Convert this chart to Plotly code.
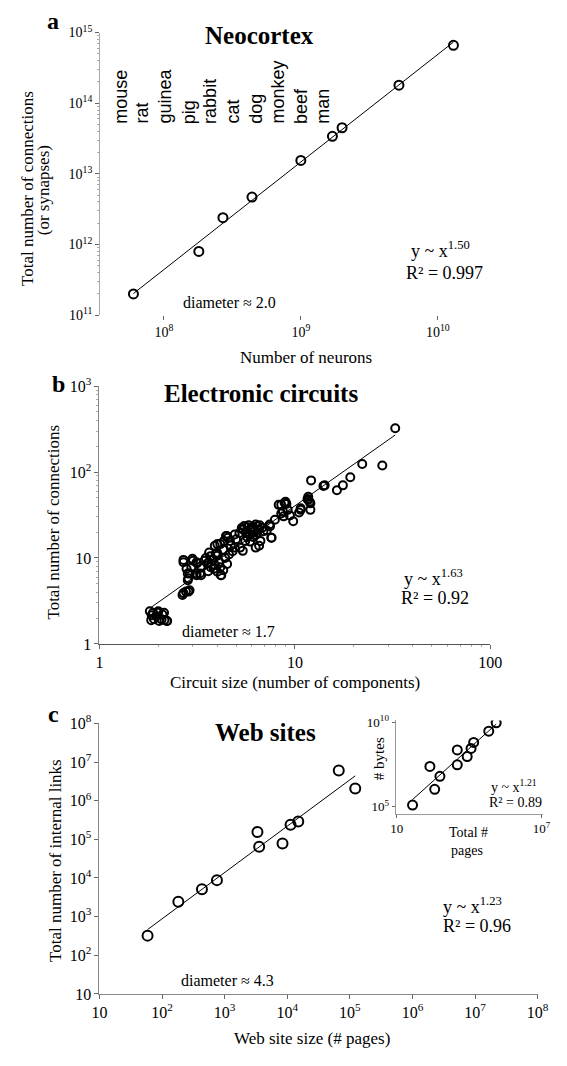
import numpy as np
import plotly.graph_objects as go

W, H = 567, 1066
SERIF = "Liberation Serif, Times New Roman, serif"
SANS = "Liberation Sans, Arial, sans-serif"

# ---- a: neocortex (neurons vs synapses) ----
species = ["mouse", "rat", "guinea", "pig", "rabbit", "cat", "dog", "monkey", "beef", "man"]
neurons = [6.0e7, 1.8e8, 2.7e8, 4.4e8, 1.0e9, 1.7e9, 2.0e9, 5.2e9, 1.3e10]
synapses = [2.0e11, 8.0e11, 2.4e12, 4.7e12, 1.55e13, 3.4e13, 4.5e13, 1.8e14, 6.6e14]

# ---- b: electronic circuits (components vs connections) ----
circuit_size = [
    32.6, 28.0, 22.1, 19.2, 17.6, 16.4, 14.0, 14.2, 12.1, 11.6, 11.7, 11.7, 12.0, 11.9,
    12.0, 10.7, 10.7, 10.5, 9.8, 9.43, 9.19, 8.85, 8.95, 9.04, 8.26, 8.51, 8.68, 8.51,
    8.75, 7.9, 7.46, 7.42, 7.6, 7.18,
    6.30, 5.72, 5.41, 6.41, 6.66, 6.43, 5.35, 6.0, 6.2, 5.9, 6.5, 6.8, 5.6, 6.1,
    5.5, 5.8, 6.1, 6.6, 6.9, 6.3, 5.7, 5.2, 5.9, 6.0,
    6.30, 5.41, 4.92, 4.65, 4.48, 4.34, 4.15, 3.89, 4.00, 3.64, 3.44, 3.57, 3.85, 4.15,
    4.20, 4.00, 4.54, 4.01, 4.92, 5.24, 5.57, 6.56, 7.57, 5.0, 4.7, 4.3, 3.7, 3.9, 4.44,
    3.93, 4.18, 4.01, 3.62, 3.71,
    3.5, 3.8, 4.1, 4.4, 4.6, 3.6, 4.3, 3.3, 4.8, 4.5,
    3.01, 2.69, 3.16, 2.79, 2.95, 3.13, 3.31, 2.83, 2.83, 3.14, 3.27, 2.69, 2.99, 3.14,
    2.9, 2.85,
    2.66, 2.77, 2.89, 2.69, 2.85,
    1.81, 1.84, 1.99, 2.14, 2.02, 2.22, 1.88, 2.08, 2.21, 1.95, 2.1,
    1.9, 2.0, 2.15, 1.85,
]
circuit_links = [
    324, 119, 124, 87, 70, 61.5, 69, 70, 80, 48.5, 51.5, 47.3, 43.2, 45,
    36.3, 37.9, 36.3, 33.9, 26.7, 31.3, 36.3, 44, 45.2, 42.6, 41.5, 41.5, 34.7, 33,
    30.5, 27.9, 23.4, 24.5, 17.2, 20.9,
    24.5, 22.8, 21.5, 19.6, 15.8, 23.4, 22.4, 21, 20, 18.5, 21.5, 22.5, 20, 17.5,
    23.5, 24, 23, 24, 20.5, 18.5, 17.5, 19.5, 15.5, 22.5,
    13.2, 12.1, 13.2, 15.8, 18.0, 15.8, 14.5, 13.9, 10.6, 11.6, 9.3, 8.6, 7.5, 7.8,
    6.3, 11.5, 17.2, 14.5, 18.8, 13.2, 15.8, 13.9, 17.2, 16.5, 14, 12.5, 10.5, 8.3, 18.0,
    11.1, 6.3, 6.9, 8.9, 7.8,
    10, 9.5, 9, 10, 11, 7, 7.2, 8, 12, 8.5,
    9.3, 9.5, 8.7, 7.5, 7.8, 6.6, 6.3, 6.6, 5.5, 6.3, 6.6, 8.9, 9.8, 8.9,
    6.6, 5.8,
    3.7, 4.06, 4.2, 3.9, 4.06,
    2.4, 1.89, 2.3, 2.3, 1.85, 1.85, 2.3, 1.93, 1.85, 2.1, 2.2,
    1.95, 2.4, 1.9, 2.15,
]

# ---- c: web sites (pages vs internal links) ----
site_pages = [58.7, 182, 434, 753, 3340, 3560, 8400, 1.13e4, 1.50e4, 6.65e4, 1.22e5]
site_links = [322, 2430, 5100, 8790, 1.54e5, 6.4e4, 7.8e4, 2.38e5, 2.88e5, 6.0e6, 2.07e6]

# ---- inset: pages vs bytes ----
inset_pages = [45, 236, 373, 614, 3220, 3220, 8300, 1.2e4, 1.54e4, 6.5e4, 1.32e5]
inset_bytes = [1.26e5, 2.4e7, 1.07e6, 6.3e6, 2.26e8, 3.0e7, 9.2e7, 2.8e8, 6.3e8, 2.9e9, 9.1e9]


def fx(p):
    return p / W


def fy(p):
    return 1 - p / H


def fit_line(x, y):
    lx, ly = np.log10(x), np.log10(y)
    k, b = np.polyfit(lx, ly, 1)
    xs = np.array([min(x), max(x)])
    return xs, 10 ** (b + k * np.log10(xs))


def sup(e):
    return "10<sup>%d</sup>" % e


def log_axis(domain, rng, tickvals, ticktext, anchor, size=15, minor=False, **kw):
    d = dict(
        type="log", domain=domain, range=rng, anchor=anchor,
        tickmode="array", tickvals=tickvals, ticktext=ticktext,
        showgrid=False, zeroline=False, showline=True,
        linecolor="#777", linewidth=1,
        ticks="outside", ticklen=4, tickcolor="#666",
        tickfont=dict(family=SERIF, size=size, color="black"),
        fixedrange=True,
    )
    if minor:
        d["minor"] = dict(ticks="outside", ticklen=2, tickcolor="#aaa",
                          dtick="D1", showgrid=False)
    d.update(kw)
    return d


fig = go.Figure()

marker = dict(symbol="circle-open", color="black", line=dict(width=2, color="black"))

panels = [
    (neurons, synapses, "x", "y", 9),
    (circuit_size, circuit_links, "x2", "y2", 8),
    (site_pages, site_links, "x3", "y3", 10),
    (inset_pages, inset_bytes, "x4", "y4", 9),
]
for xs, ys, xa, ya, ms in panels:
    lx, ly = fit_line(xs, ys)
    fig.add_trace(go.Scatter(x=lx, y=ly, mode="lines", xaxis=xa, yaxis=ya,
                             line=dict(color="black", width=1), hoverinfo="skip"))
    fig.add_trace(go.Scatter(x=xs, y=ys, mode="markers", xaxis=xa, yaxis=ya,
                             marker=dict(marker, size=ms)))

layout = dict(
    width=W, height=H, margin=dict(l=0, r=0, t=0, b=0),
    paper_bgcolor="white", plot_bgcolor="white", showlegend=False,
)

# a
layout["xaxis"] = log_axis([fx(95.5), fx(540)], [7.535, 10.665], [1e8, 1e9, 1e10],
                           [sup(8), sup(9), sup(10)], "y", size=14, showline=False)
layout["yaxis"] = log_axis([fy(310), fy(22)], [11, 15], [1e11, 1e12, 1e13, 1e14, 1e15],
                           [sup(e) for e in range(11, 16)], "x", size=14, linecolor="#aaa",
                           minor=True)
# b
layout["xaxis2"] = log_axis([fx(94.8), fx(500)], [0, 2], [1, 10, 100], ["1", "10", "100"],
                            "y2", size=16, linecolor="#555", minor=True)
layout["yaxis2"] = log_axis([fy(645), fy(382.3)], [0, 3], [1, 10, 100, 1000],
                            ["1", "10", sup(2), sup(3)], "x2", size=16, linecolor="#888",
                            minor=True)
# c
layout["xaxis3"] = log_axis([fx(94.8), fx(549)], [1, 8], [10 ** e for e in range(1, 9)],
                            ["10"] + [sup(e) for e in range(2, 9)], "y3", size=16,
                            linecolor="#888")
layout["yaxis3"] = log_axis([fy(1001.7), fy(726)], [1, 8], [10 ** e for e in range(1, 9)],
                            ["10"] + [sup(e) for e in range(2, 9)], "x3", size=16,
                            linecolor="#888")
# inset
layout["xaxis4"] = log_axis([fx(401.7), fx(555)], [0.948, 7.08], [10, 1e7], ["10", sup(7)],
                            "y4", size=13, linecolor="#999", ticklen=3)
layout["yaxis4"] = log_axis([fy(818), fy(723)], [4.59, 10.1], [1e5, 1e10], [sup(5), sup(10)],
                            "x4", size=13, linecolor="#999", ticklen=3)

annotations = []


def text(x, y, s, size, family=SERIF, angle=0, xanchor="center", yanchor="middle", bold=False):
    if bold:
        s = "<b>%s</b>" % s
    annotations.append(dict(
        x=fx(x), y=fy(y), xref="paper", yref="paper", text=s, showarrow=False,
        textangle=angle, xanchor=xanchor, yanchor=yanchor,
        font=dict(family=family, size=size, color="black"),
    ))


# panel letters and titles
text(47, 10, "a", 24, bold=True)
text(52, 380, "b", 24, bold=True)
text(47, 716, "c", 24, bold=True)
text(261, 25, "Neocortex", 25, bold=True)
text(262, 390, "Electronic circuits", 25, bold=True)
text(267, 735, "Web sites", 25, bold=True)

# species names above the neocortex points
species_x = [117, 139, 163, 187, 210, 233, 257, 280, 304, 327]
for sx, name in zip(species_x, species):
    text(sx, 117, name, 18, family=SANS, angle=-90, yanchor="bottom")

# axis titles
text(20, 181, "Total number of connections", 17, angle=-90)
text(37, 183, "(or synapses)", 17, angle=-90)
text(309, 353, "Number of neurons", 17)
text(47, 521, "Total number of connections", 17, angle=-90)
text(298, 684, "Circuit size (number of components)", 17)
text(49, 866, "Total number of internal links", 17, angle=-90)
text(315, 1047, "Web site size (# pages)", 17)
text(477, 837, "Total #", 14)
text(476, 856, "pages", 14)
text(384, 762, "# bytes", 15, angle=-90)

# fit statistics
text(448, 243, "y ~ x<sup>1.50</sup>", 18)
text(452, 267, "R² = 0.997", 18)
text(230, 297, "diameter ≈ 2.0", 16)
text(441, 577, "y ~ x<sup>1.63</sup>", 18)
text(443, 598, "R² = 0.92", 18)
text(229, 632, "diameter ≈ 1.7", 16)
text(481, 912, "y ~ x<sup>1.23</sup>", 18)
text(486, 932, "R² = 0.96", 18)
text(228, 988, "diameter ≈ 4.3", 16)
text(525, 790, "y ~ x<sup>1.21</sup>", 14)
text(526, 807, "R² = 0.89", 14)

layout["annotations"] = annotations
fig.update_layout(**layout)
fig.write_html("out.html")
